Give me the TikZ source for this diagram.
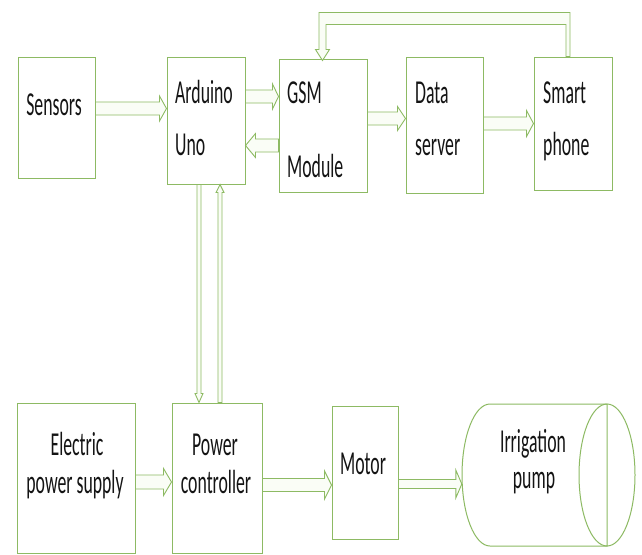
\documentclass[tikz,border=0pt]{standalone}
\usepackage{fontspec}
\setmainfont{Carlito}
\newfontfamily\lblfont[FakeStretch=0.53]{Carlito}
\usetikzlibrary{calc}
\definecolor{gline}{HTML}{8DBA63}
\definecolor{afill}{HTML}{FAFDF6}
\definecolor{tcol}{HTML}{141414}
\tikzset{
  blk/.style={draw=gline, line width=1pt, fill=white, inner sep=0pt},
  barrow/.style={draw=gline, line width=0.9pt, fill=afill, line join=miter},
  lbl/.style={font=\lblfont\fontsize{33.5}{34}\selectfont, text=tcol, inner sep=0pt},
}
% block arrows: #1 tail, #2 tip, #3 shaft half width, #4 head half width, #5 head length
\newcommand\arR[5]{\draw[barrow] let \p1=(#1), \p2=(#2) in (\x1,\y1+#3) -- (\x2-#5,\y1+#3) -- (\x2-#5,\y1+#4) -- (\x2,\y1) -- (\x2-#5,\y1-#4) -- (\x2-#5,\y1-#3) -- (\x1,\y1-#3) -- cycle;}
\newcommand\arL[5]{\draw[barrow] let \p1=(#1), \p2=(#2) in (\x1,\y1+#3) -- (\x2+#5,\y1+#3) -- (\x2+#5,\y1+#4) -- (\x2,\y1) -- (\x2+#5,\y1-#4) -- (\x2+#5,\y1-#3) -- (\x1,\y1-#3) -- cycle;}
\newcommand\arD[5]{\draw[barrow] let \p1=(#1), \p2=(#2) in (\x1-#3,\y1) -- (\x1-#3,\y2+#5) -- (\x1-#4,\y2+#5) -- (\x1,\y2) -- (\x1+#4,\y2+#5) -- (\x1+#3,\y2+#5) -- (\x1+#3,\y1) -- cycle;}
\newcommand\arU[5]{\draw[barrow] let \p1=(#1), \p2=(#2) in (\x1-#3,\y1) -- (\x1-#3,\y2-#5) -- (\x1-#4,\y2-#5) -- (\x1,\y2) -- (\x1+#4,\y2-#5) -- (\x1+#3,\y2-#5) -- (\x1+#3,\y1) -- cycle;}
\begin{document}
\begin{tikzpicture}[x=1pt, y=-1pt]
\fill[white] (0,0) rectangle (642,554);
\useasboundingbox (0,0) rectangle (642,554);

% boxes
\node[blk, minimum width=77pt, minimum height=121pt] (sensors) at (56.5,117.5) {};
\node[blk, minimum width=78pt, minimum height=127pt] (ard) at (206,120.5) {};
\node[blk, minimum width=88pt, minimum height=133pt] (gsm) at (323,125.5) {};
\node[blk, minimum width=77pt, minimum height=136pt] (data) at (444.5,125) {};
\node[blk, minimum width=78pt, minimum height=133pt] (smart) at (573,123.5) {};
\node[blk, minimum width=118pt, minimum height=150pt] (elec) at (76,478) {};
\node[blk, minimum width=90pt, minimum height=150pt] (power) at (217,478) {};
\node[blk, minimum width=66pt, minimum height=133pt] (motor) at (365,472.5) {};

% cylinder (irrigation pump)
\node[inner sep=0pt, minimum width=173pt, minimum height=142pt] (pump) at (548.5,475) {};
\draw[draw=gline, line width=1pt, fill=white]
  (490,404) -- (607,404) -- (607,546) -- (490,546)
  .. controls (474.5,546) and (462,514.2) .. (462,475)
  .. controls (462,435.8) and (474.5,404) .. (490,404) -- cycle;
\draw[draw=gline, line width=1pt] (607,475) ellipse [x radius=28, y radius=71];

% arrow guide coordinates
\coordinate (ya1) at (0,108.5);
\coordinate (ya2) at (0,96.5);
\coordinate (ya3) at (0,145.5);
\coordinate (ya4) at (0,118.5);
\coordinate (ya5) at (0,123.5);
\coordinate (ya8) at (0,482);
\coordinate (ya9) at (0,485);
\coordinate (ya10) at (0,484);
\coordinate (xd) at (199,0);
\coordinate (xu) at (220,0);
\coordinate (fbx) at (568,0);
\coordinate (fbl) at (322.5,0);

% arrows
\arR{sensors.east |- ya1}{ard.west |- ya1}{6.5pt}{12.5pt}{7pt}
\arR{ard.east |- ya2}{gsm.west |- ya2}{6.5pt}{12.5pt}{6pt}
\arL{gsm.west |- ya3}{ard.east |- ya3}{6.5pt}{12pt}{10pt}
\arR{gsm.east |- ya4}{data.west |- ya4}{6.5pt}{12pt}{8pt}
\arR{data.east |- ya5}{smart.west |- ya5}{6.5pt}{13pt}{7pt}
\arD{ard.south -| xd}{power.north -| xd}{2pt}{4pt}{9pt}
\arU{power.north -| xu}{ard.south -| xu}{2pt}{4pt}{8pt}
\arR{elec.east |- ya8}{power.west |- ya8}{7pt}{13.5pt}{8pt}
\arR{power.east |- ya9}{motor.west |- ya9}{6.5pt}{14pt}{7pt}
\arR{motor.east |- ya10}{pump.west |- ya10}{4.5pt}{14pt}{6pt}

% feedback arrow smart phone -> GSM module
\draw[barrow] let \p1=(smart.north -| fbx), \p2=(gsm.north -| fbl) in
  (\x1+2pt,\y1) -- (\x1+2pt,\y1+44pt) -- (\x2-3.5pt,\y1+44pt) -- (\x2-3.5pt,\y2+9pt)
  -- (\x2-7pt,\y2+9pt) -- (\x2,\y2-2pt) -- (\x2+7pt,\y2+9pt) -- (\x2+3.5pt,\y2+9pt)
  -- (\x2+3.5pt,\y1+32pt) -- (\x1-2pt,\y1+32pt) -- (\x1-2pt,\y1) -- cycle;

% labels
\node[lbl, anchor=base] (tsens) at (54,115) {Sensors};
\node[lbl, anchor=base west] (tard1) at (175,103) {Arduino};
\node[lbl, anchor=base west] (tard2) at (175,155) {Uno};
\node[lbl, anchor=base west] (tgsm1) at (287,103) {GSM};
\node[lbl, anchor=base west] (tgsm2) at (287,177) {Module};
\node[lbl, anchor=base west] (tdata1) at (415,103) {Data};
\node[lbl, anchor=base west] (tdata2) at (415,155) {server};
\node[lbl, anchor=base west] (tsm1) at (543,103) {Smart};
\node[lbl, anchor=base west] (tsm2) at (543,155) {phone};
\node[lbl, anchor=base] (tel1) at (77,455) {Electric};
\node[lbl, anchor=base] (tel2) at (75,493) {power supply};
\node[lbl, anchor=base] (tpw1) at (215,455) {Power};
\node[lbl, anchor=base] (tpw2) at (216,493) {controller};
\node[lbl, anchor=base] (tmot) at (363,474) {Motor};
\node[lbl, anchor=base] (tirr1) at (533,452) {Irrigation};
\node[lbl, anchor=base] (tirr2) at (534,488) {pump};
\end{tikzpicture}
\end{document}
